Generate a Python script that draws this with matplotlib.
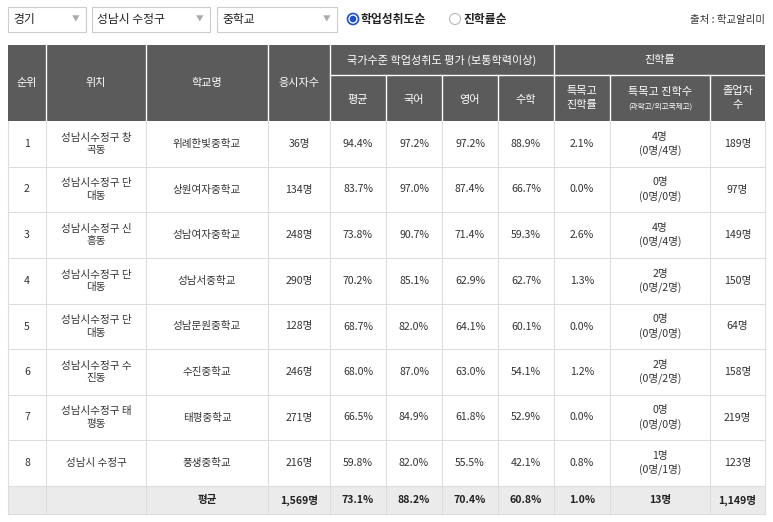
import matplotlib
matplotlib.use("Agg")
import matplotlib.pyplot as plt
from matplotlib.patches import Rectangle, Circle

plt.rcParams['font.family'] = 'Noto Sans CJK KR'

ranks = ["1","2","3","4","5","6","7","8"]
locations = ["성남시수정구 창\n곡동","성남시수정구 단\n대동","성남시수정구 신\n흥동","성남시수정구 단\n대동",
             "성남시수정구 단\n대동","성남시수정구 수\n진동","성남시수정구 태\n평동","성남시 수정구"]
schools = ["위례한빛중학교","상원여자중학교","성남여자중학교","성남서중학교","성남문원중학교","수진중학교","태평중학교","풍생중학교"]
takers = ["36명","134명","248명","290명","128명","246명","271명","216명"]
avg = ["94.4%","83.7%","73.8%","70.2%","68.7%","68.0%","66.5%","59.8%"]
kor = ["97.2%","97.0%","90.7%","85.1%","82.0%","87.0%","84.9%","82.0%"]
eng = ["97.2%","87.4%","71.4%","62.9%","64.1%","63.0%","61.8%","55.5%"]
math_ = ["88.9%","66.7%","59.3%","62.7%","60.1%","54.1%","52.9%","42.1%"]
sp_rate = ["2.1%","0.0%","2.6%","1.3%","0.0%","1.2%","0.0%","0.8%"]
sp_cnt = ["4명\n(0명/4명)","0명\n(0명/0명)","4명\n(0명/4명)","2명\n(0명/2명)","0명\n(0명/0명)","2명\n(0명/2명)","0명\n(0명/0명)","1명\n(0명/1명)"]
grads = ["189명","97명","149명","150명","64명","158명","219명","123명"]
avg_row = ["","","평균","1,569명","73.1%","88.2%","70.4%","60.8%","1.0%","13명","1,149명"]

fig = plt.figure(figsize=(7.73,5.22), dpi=100)
ax = fig.add_axes([0,0,1,1])
ax.set_xlim(0,773); ax.set_ylim(522,0); ax.axis('off')

fs = 7.6
# controls
for x0,x1,t in [(8,86,"경기"),(92,210,"성남시 수정구"),(217,337,"중학교")]:
    ax.add_patch(Rectangle((x0,7),x1-x0,25,fc='white',ec='#cccccc',lw=0.8))
    ax.text(x0+5,19.5,t,fontsize=8.5,va='center',color='#222')
    ax.text(x1-10,19.5,"▼",fontsize=5.5,va='center',ha='center',color='#aaa')
ax.add_patch(Circle((353,19),5.5,fc='white',ec='#1a4fd6',lw=1.2))
ax.add_patch(Circle((353,19),3.3,fc='#1a4fd6',ec='none'))
ax.text(361,19.5,"학업성취도순",fontsize=8.5,va='center',color='#222',fontweight='bold')
ax.add_patch(Circle((455,19),5.5,fc='white',ec='#bbbbbb',lw=0.8))
ax.text(464,19.5,"진학률순",fontsize=8.5,va='center',color='#222',fontweight='bold')
ax.text(765,19.5,"출처 : 학교알리미",fontsize=7.5,va='center',ha='right',color='#333')

xs = [8,46,146,268,330,386,442,498,554,610,710,765]
htop, hmid, hbot = 45, 75, 121
rows = [121,167,212,258,304,349,395,440,486]
bottom = 514
hc = '#5b5b5b'
ax.add_patch(Rectangle((xs[0],htop),xs[-1]-xs[0],hbot-htop,fc=hc,ec='none'))
wl = dict(color='white',lw=1)
for i,x in enumerate(xs[1:-1],1):
    if i in (5,6,7,9,10):
        ax.plot([x,x],[hmid,hbot],**wl)
    else:
        ax.plot([x,x],[htop,hbot],**wl)
ax.plot([xs[4],xs[-1]],[hmid,hmid],**wl)
def ht(x,y,t,s=8):
    ax.text(x,y,t,fontsize=s,color='white',ha='center',va='center',linespacing=1.5)
c = lambda i:(xs[i]+xs[i+1])/2
for i,t in enumerate(["순위","위치","학교명","응시자수"]):
    ht(c(i),(htop+hbot)/2,t)
ht((xs[4]+xs[8])/2,(htop+hmid)/2,"국가수준 학업성취도 평가 (보통학력이상)")
ht((xs[8]+xs[11])/2,(htop+hmid)/2,"진학률")
for i,t in zip([4,5,6,7],["평균","국어","영어","수학"]):
    ht(c(i),(hmid+hbot)/2+2,t)
ht(c(8),(hmid+hbot)/2,"특목고\n진학률")
ht(c(9),(hmid+hbot)/2-6,"특목고 진학수")
ht(c(9),(hmid+hbot)/2+9,"(과학고/외고국제고)",s=5.5)
ht(c(10),(hmid+hbot)/2,"졸업자\n수")

# body
ax.add_patch(Rectangle((xs[0],rows[-1]),xs[-1]-xs[0],bottom-rows[-1],fc='#ebebeb',ec='none'))
lc = '#dddddd'
for y in rows[1:]+[bottom]:
    ax.plot([xs[0],xs[-1]],[y,y],color=lc,lw=0.8)
for x in xs:
    ax.plot([x,x],[hbot,bottom],color=lc,lw=0.8)
cols = [ranks,locations,schools,takers,avg,kor,eng,math_,sp_rate,sp_cnt,grads]
for r in range(8):
    yc = (rows[r]+rows[r+1])/2
    for i,col in enumerate(cols):
        ax.text(c(i),yc,col[r],fontsize=fs,ha='center',va='center',color='#333',linespacing=1.3)
yc = (rows[-1]+bottom)/2
for i,t in enumerate(avg_row):
    ax.text(c(i),yc,t,fontsize=fs,ha='center',va='center',color='#222',fontweight='bold')

fig.savefig("out.png",dpi=100)
